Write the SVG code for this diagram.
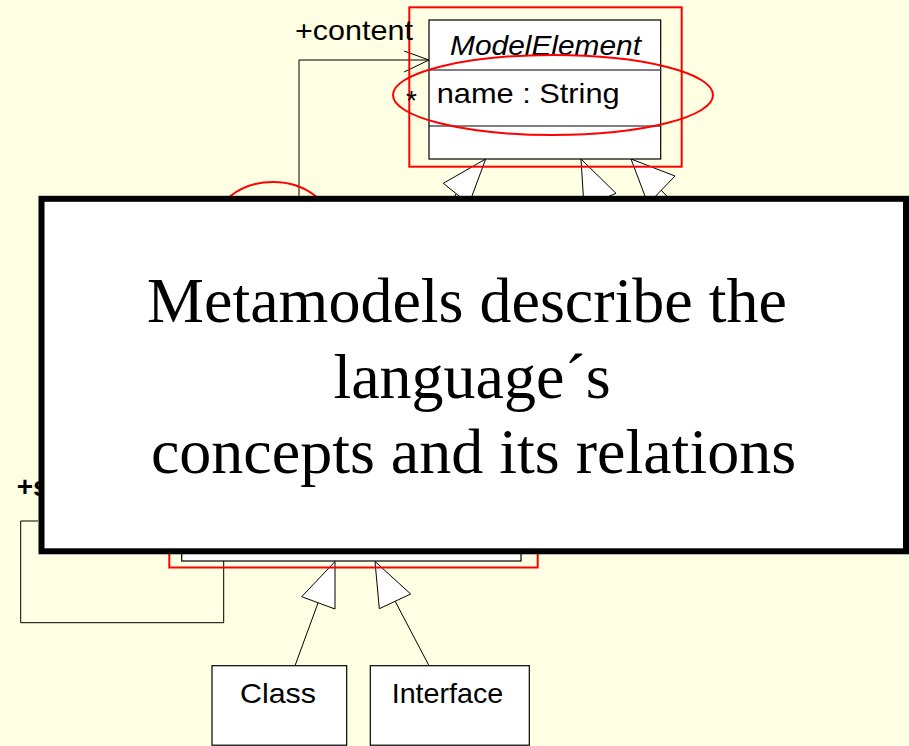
<svg xmlns="http://www.w3.org/2000/svg" width="909" height="746" viewBox="0 0 909 746">
<style>
.sans{font-family:"Liberation Sans",Arial,sans-serif;fill:#000}
.box{fill:#fff;stroke:#000;stroke-width:1.2}
.ln{fill:none;stroke:#000;stroke-width:1}
.tri{fill:#fff;stroke:#000;stroke-width:1}
.red{fill:none;stroke:#ff0000;stroke-width:2}
</style>
<rect x="0" y="0" width="909" height="746" fill="#ffffe3"/>
<g id="connectors">
<polyline class="ln" points="299,200 299,60 429,60"/>
<polyline class="ln" points="404,51 429,60 404,72"/>
<polyline class="ln" points="38,521 20.7,521 20.7,622.7 223.7,622.7 223.7,561" stroke="#555"/>
<line class="ln" x1="456" y1="194" x2="440" y2="230"/>
<line class="ln" x1="600" y1="200" x2="610" y2="230"/>
<line class="ln" x1="661" y1="190" x2="680" y2="210"/>
<polygon class="tri" points="485.7,159 443.3,183.3 469,204"/>
<polygon class="tri" points="581,159 616,193.3 584,207"/>
<polygon class="tri" points="631,159 675,176 648,204"/>
<line class="ln" x1="318" y1="603" x2="295" y2="665.7"/>
<line class="ln" x1="395" y1="601" x2="429" y2="665.7"/>
<polygon class="tri" points="335,561.5 301.7,596.7 335,609"/>
<polygon class="tri" points="375,561.5 379.3,608.7 410.7,594"/>
</g>
<g id="ModelElement">
<rect class="red" x="409.3" y="7.3" width="272.4" height="159.4"/>
<rect class="box" x="429" y="20" width="231.7" height="139"/>
<line x1="429" y1="70" x2="660.7" y2="70" stroke="#555" stroke-width="1.6"/>
<line x1="429" y1="126" x2="660.7" y2="126" stroke="#000" stroke-width="1"/>
<text class="sans" x="450" y="55" font-size="28" font-style="italic" textLength="191" lengthAdjust="spacingAndGlyphs">ModelElement</text>
<text class="sans" x="436.7" y="103" font-size="28" textLength="183" lengthAdjust="spacingAndGlyphs">name : String</text>
<ellipse class="red" cx="553" cy="95" rx="160" ry="40"/>
<text class="sans" x="295" y="40" font-size="28" textLength="118" lengthAdjust="spacingAndGlyphs">+content</text>
<text class="sans" x="406" y="110" font-size="28">*</text>
</g>
<g id="Hidden">
<rect class="red" x="169.3" y="460" width="368.4" height="107.5"/>
<rect class="box" x="181.7" y="470" width="339.3" height="91"/>
<ellipse class="red" cx="273" cy="230" rx="60" ry="48"/>
<text class="sans" x="16.7" y="496" font-size="28" font-weight="bold">+s</text>
</g>
<g id="Class">
<rect class="box" x="212" y="665.7" width="134.7" height="79.5"/>
<text class="sans" x="240" y="703" font-size="28" textLength="76" lengthAdjust="spacingAndGlyphs">Class</text>
</g>
<g id="Interface">
<rect class="box" x="370.3" y="665.7" width="159" height="79.5"/>
<text class="sans" x="391.7" y="703" font-size="28" textLength="111.6" lengthAdjust="spacingAndGlyphs">Interface</text>
</g>
<g id="Note">
<rect x="41.5" y="198.8" width="864.5" height="352.5" fill="#fff" stroke="#000" stroke-width="6"/>
<g font-family="'Liberation Serif','Times New Roman',serif" font-size="64" text-anchor="middle" fill="#000">
<text x="467" y="322">Metamodels describe the</text>
<text x="472" y="398">language´s</text>
<text x="473.5" y="473">concepts and its relations</text>
</g>
</g>
</svg>
